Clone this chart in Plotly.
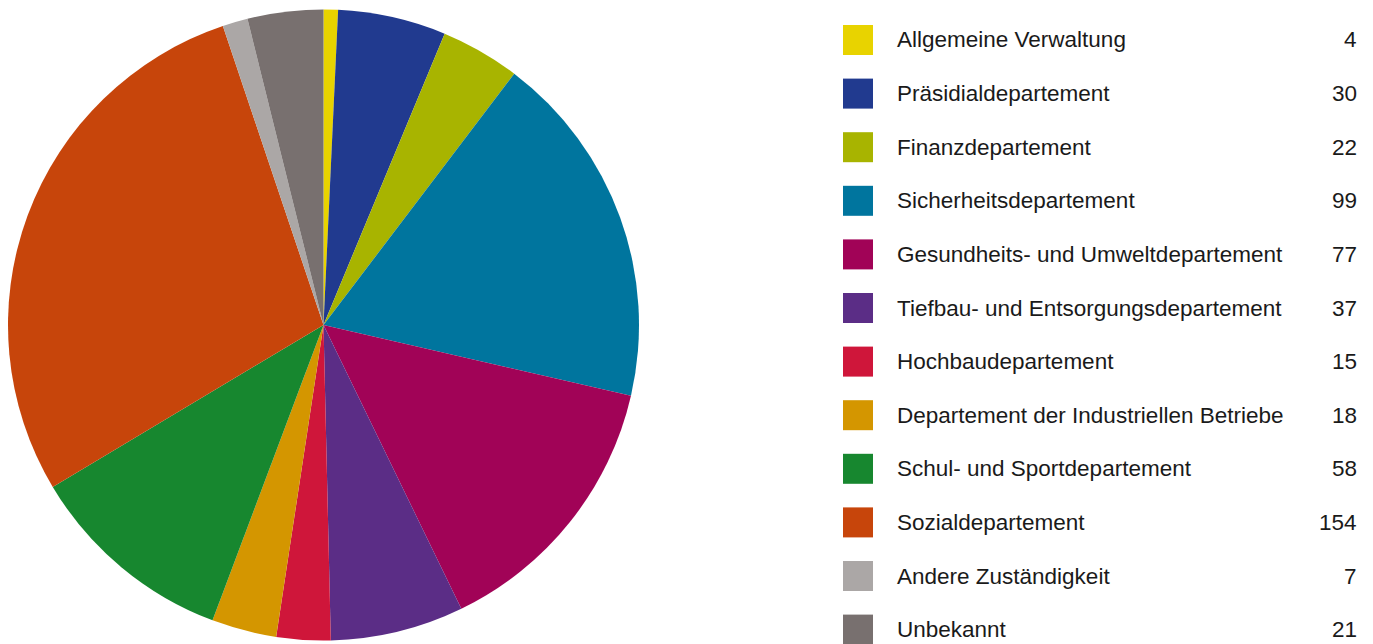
import plotly.graph_objects as go

categories = [
    "Allgemeine Verwaltung",
    "Präsidialdepartement",
    "Finanzdepartement",
    "Sicherheitsdepartement",
    "Gesundheits- und Umweltdepartement",
    "Tiefbau- und Entsorgungsdepartement",
    "Hochbaudepartement",
    "Departement der Industriellen Betriebe",
    "Schul- und Sportdepartement",
    "Sozialdepartement",
    "Andere Zuständigkeit",
    "Unbekannt",
]
values = [4, 30, 22, 99, 77, 37, 15, 18, 58, 154, 7, 21]
colors = [
    "#e8d300", "#213a8f", "#a8b400", "#00759e", "#a10357", "#5b2d86",
    "#cf163a", "#d49600", "#17872f", "#c7450b", "#aba7a6", "#78706f",
]

W, H = 1373, 644
OFF = 8  # page body margin offset


def px(x):
    return min(max((x - OFF) / W, 0), 1)


def py(y):
    return min(max(1 - (y - OFF) / H, 0), 1)


fig = go.Figure()
fig.add_trace(go.Pie(
    labels=categories,
    values=values,
    marker=dict(colors=colors, line=dict(width=0)),
    sort=False,
    direction="clockwise",
    rotation=0,
    textinfo="none",
    showlegend=False,
    domain=dict(x=[px(8), px(639)], y=[py(641), py(9)]),
))

shapes = []
annotations = []
font = dict(family="Liberation Sans, Arial, sans-serif", size=22.5, color="#1a1a1a")
row0, step = 40, 53.6
for i, (cat, val, col) in enumerate(zip(categories, values, colors)):
    yc = row0 + i * step
    shapes.append(dict(
        type="rect", xref="paper", yref="paper",
        x0=px(843), x1=px(873),
        y0=py(yc - 15), y1=py(yc + 15),
        fillcolor=col, line=dict(width=0),
    ))
    annotations.append(dict(
        text=cat, xref="paper", yref="paper",
        x=px(895), y=py(yc), xanchor="left", yanchor="middle",
        showarrow=False, font=font,
    ))
    annotations.append(dict(
        text=str(val), xref="paper", yref="paper",
        x=px(1359), y=py(yc), xanchor="right", yanchor="middle",
        showarrow=False, font=font,
    ))

fig.update_layout(
    width=W, height=H,
    margin=dict(l=0, r=0, t=0, b=0),
    paper_bgcolor="white",
    plot_bgcolor="white",
    shapes=shapes,
    annotations=annotations,
)

fig.write_html("out.html")
